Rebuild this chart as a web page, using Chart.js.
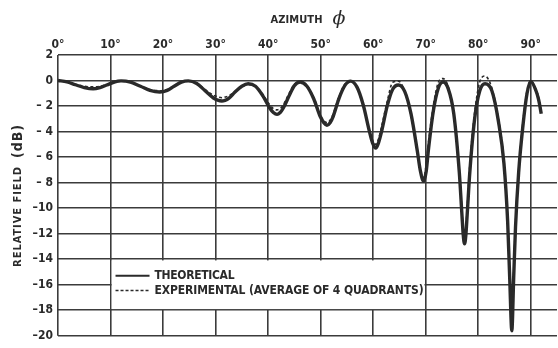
<!DOCTYPE html>
<html>
<head>
<meta charset="utf-8">
<script src="https://cdn.jsdelivr.net/npm/chart.js@4.4.1/dist/chart.umd.min.js"></script>
<style>
  html, body { margin: 0; padding: 0; background: #fff; }
  #wrap { width: 558px; height: 348px; }
</style>
</head>
<body>
<div id="wrap"><canvas id="c" width="558" height="348"></canvas></div>
<script>
// Azimuth samples (degrees) shared by both curves
const azimuth = [
  0, 1.7, 3.3, 5, 6.7, 8, 9.3, 10.7, 12,
  13.8, 15.7, 17.5, 19.4, 20.8, 22.1, 23.5, 24.8,
  26.4, 28, 29.6, 30.4, 31.2, 31.8, 32.5, 33.7, 35, 36.2,
  37.6, 39, 40.3, 41, 41.7, 42.3, 42.9, 44, 45, 46.1,
  47.4, 48.7, 49.9, 50.6, 51.2, 51.8, 52.4, 53.5, 54.6, 55.7,
  56.9, 58.1, 59.3, 59.9, 60.5, 61, 61.6, 62.7, 63.7, 64.8,
  66, 67.2, 68.4, 69, 69.6, 70.1, 70.5, 71.45, 72.4, 73.3,
  74.3, 75.35, 76.4, 76.9, 77.15, 77.4, 77.65, 77.9, 78.4, 79.35, 80.3, 81.3,
  82.6, 83.85, 84.9, 85.6, 86.0, 86.4, 86.75, 87.1, 87.7, 88.5, 89.3, 90,
  91, 91.5, 92
];

// Relative field, theoretical (dB)
const theoretical = [
  0, -0.1, -0.33, -0.55, -0.65, -0.55, -0.35, -0.12, -0.03,
  -0.13, -0.45, -0.77, -0.9, -0.77, -0.45, -0.13, -0.03,
  -0.23, -0.8, -1.37, -1.54, -1.6, -1.55, -1.4, -0.9, -0.45, -0.25,
  -0.45, -1.2, -2.15, -2.5, -2.65, -2.5, -2.15, -1.2, -0.4, -0.12,
  -0.45, -1.45, -2.8, -3.3, -3.5, -3.3, -2.8, -1.4, -0.4, -0.05,
  -0.5, -1.9, -4.0, -4.9, -5.3, -4.9, -4.0, -1.95, -0.7, -0.35,
  -0.85, -2.6, -5.5, -7.1, -7.9, -7.1, -5.5, -2.4, -0.6, -0.12,
  -0.65, -2.6, -7.2, -10.5, -12.1, -12.8, -12.1, -10.5, -7.2, -2.9, -0.8, -0.25,
  -0.8, -3.2, -6.5, -11.0, -15.5, -19.6, -15.5, -11.5, -7.2, -3.6, -1.0, -0.07,
  -0.8, -1.5, -2.6
];

// Relative field, experimental average of 4 quadrants (dB)
const experimental = [
  0, -0.12, -0.3, -0.45, -0.5, -0.45, -0.32, -0.15, -0.05,
  -0.15, -0.45, -0.7, -0.8, -0.7, -0.4, -0.12, -0.03,
  -0.2, -0.7, -1.15, -1.28, -1.35, -1.3, -1.2, -0.85, -0.5, -0.3,
  -0.45, -1.1, -1.9, -2.2, -2.3, -2.2, -1.9, -1.0, -0.3, -0.05,
  -0.4, -1.35, -2.65, -3.15, -3.3, -3.1, -2.6, -1.25, -0.3, -0.05,
  -0.55, -2.0, -4.0, -4.75, -5.0, -4.6, -3.6, -1.6, -0.15, -0.05,
  -0.85, -2.7, -5.6, -7.0, -7.6, -6.6, -5.0, -2.0, -0.15, 0.15,
  -0.5, -2.6, -7.0, -10.2, -11.7, -12.3, -11.6, -10.0, -6.6, -2.4, -0.1, 0.35,
  -0.6, -3.0, -6.3, -10.8, -15.0, -18.8, -15.0, -11.2, -7.0, -3.3, -0.8, 0,
  -0.7, -1.3, -2.3
];

const azimuthTicks = [0, 10, 20, 30, 40, 50, 60, 70, 80, 90];
const fieldTicks = [2, 0, -2, -4, -6, -8, -10, -12, -14, -16, -18, -20];
const legendLabels = ['THEORETICAL', 'EXPERIMENTAL (AVERAGE OF 4 QUADRANTS)'];

const INK = '#2a2a2a';
const GRID = '#3b3b3b';
const FONT = '"DejaVu Sans Condensed", "Liberation Sans Narrow", "DejaVu Sans", sans-serif';

function pts(ys) { return azimuth.map((x, i) => ({ x: x, y: ys[i] })); }

// draw text stretched with letter spacing to a given width
function spacedText(ctx, text, x, y, width) {
  ctx.letterSpacing = '0px';
  const w = ctx.measureText(text).width;
  const n = Math.max(1, text.length - 1);
  const s = Math.max(-1, (width - w) / n);
  ctx.letterSpacing = s.toFixed(2) + 'px';
  ctx.fillText(text, x, y);
  ctx.letterSpacing = '0px';
}

const decorations = {
  id: 'decorations',
  beforeDatasetsDraw(chart) {
    const { ctx } = chart;
    const xs = chart.scales.x, ys = chart.scales.y;
    // legend panel covering the grid cells between 10-70 deg and -14..-18 dB
    const x1 = xs.getPixelForValue(10), x2 = xs.getPixelForValue(70);
    const y1 = ys.getPixelForValue(-14), y2 = ys.getPixelForValue(-18);
    ctx.save();
    ctx.fillStyle = '#fff';
    ctx.fillRect(x1 + 1.2, y1 + 1.2, x2 - x1 - 2.4, y2 - y1 - 2.4);
    ctx.restore();
  },
  afterDatasetsDraw(chart) {
    const { ctx, chartArea } = chart;
    const xs = chart.scales.x, ys = chart.scales.y;
    const lx = xs.getPixelForValue(10) + 5;
    const tx = lx + 39;
    const tEnd = xs.getPixelForValue(70) - 2;
    const row1 = ys.getPixelForValue(-15.3);
    const row2 = ys.getPixelForValue(-16.45);
    ctx.save();
    ctx.strokeStyle = INK;
    ctx.lineWidth = 2;
    ctx.beginPath(); ctx.moveTo(lx, row1); ctx.lineTo(lx + 34, row1); ctx.stroke();
    ctx.lineWidth = 1.5;
    ctx.setLineDash([3, 2]);
    ctx.beginPath(); ctx.moveTo(lx, row2); ctx.lineTo(lx + 34, row2); ctx.stroke();
    ctx.setLineDash([]);
    ctx.fillStyle = INK;
    ctx.font = '600 12px ' + FONT;
    ctx.textBaseline = 'middle';
    ctx.textAlign = 'left';
    spacedText(ctx, legendLabels[0], tx, row1, 80);
    spacedText(ctx, legendLabels[1], tx, row2, tEnd - tx);

    // axis title on top
    const cx = (chartArea.left + chartArea.right) / 2;
    ctx.textBaseline = 'alphabetic';
    ctx.font = 'bold 11px ' + FONT;
    spacedText(ctx, 'AZIMUTH', cx - 37, 23, 52);
    ctx.font = 'italic 19px "DejaVu Serif", serif';
    ctx.fillText('\u03D5', cx + 25, 24);

    // vertical axis title
    const cy = (chartArea.top + chartArea.bottom) / 2;
    ctx.translate(18, cy);
    ctx.rotate(-Math.PI / 2);
    ctx.textBaseline = 'middle';
    ctx.font = 'bold 14px ' + FONT;
    const p2 = '(dB)';
    ctx.letterSpacing = '1px';
    const w2 = ctx.measureText(p2).width;
    const total = 143;
    ctx.font = 'bold 11px ' + FONT;
    spacedText(ctx, 'RELATIVE FIELD', -total / 2, 0, total - w2 - 9);
    ctx.font = 'bold 14px ' + FONT;
    ctx.letterSpacing = '1px';
    ctx.fillText(p2, total / 2 - w2, 0);
    ctx.letterSpacing = '0px';
    ctx.restore();
  }
};

new Chart(document.getElementById('c'), {
  type: 'line',
  data: {
    datasets: [
      {
        label: legendLabels[0],
        data: pts(theoretical),
        borderColor: INK,
        borderWidth: 3.4,
        pointRadius: 0,
        cubicInterpolationMode: 'monotone',
        fill: false,
        order: 2
      },
      {
        label: legendLabels[1],
        data: pts(experimental),
        borderColor: INK,
        borderWidth: 1.6,
        borderDash: [3, 2.5],
        pointRadius: 0,
        cubicInterpolationMode: 'monotone',
        fill: false,
        order: 1
      }
    ]
  },
  options: {
    responsive: false,
    devicePixelRatio: 1,
    animation: false,
    layout: { padding: { left: 0, right: 1, top: 0, bottom: 6 } },
    plugins: {
      legend: { display: false },
      tooltip: { enabled: false },
      title: { display: false }
    },
    scales: {
      x: {
        type: 'linear',
        position: 'top',
        min: 0,
        max: 95,
        afterBuildTicks: s => { s.ticks = azimuthTicks.map(v => ({ value: v })); },
        afterFit: s => { s.height = 55; },
        grid: { color: GRID, lineWidth: 1.6, drawTicks: false },
        border: { display: false },
        ticks: {
          autoSkip: false,
          maxRotation: 0,
          padding: 3,
          color: INK,
          font: { family: FONT, size: 12, weight: 'bold' },
          callback: v => v + '\u00B0'
        }
      },
      y: {
        type: 'linear',
        min: -20,
        max: 2,
        afterBuildTicks: s => { s.ticks = fieldTicks.map(v => ({ value: v })); },
        afterFit: s => { s.width = 58; },
        grid: { color: GRID, lineWidth: 1.6, drawTicks: false },
        border: { display: false },
        ticks: {
          padding: 5,
          color: INK,
          font: { family: FONT, size: 12, weight: 'bold' },
          callback: v => v < 0 ? ('\u2013' + (v > -10 ? ' ' : '') + Math.abs(v)) : String(v)
        }
      }
    }
  },
  plugins: [decorations]
});
</script>
</body>
</html>
